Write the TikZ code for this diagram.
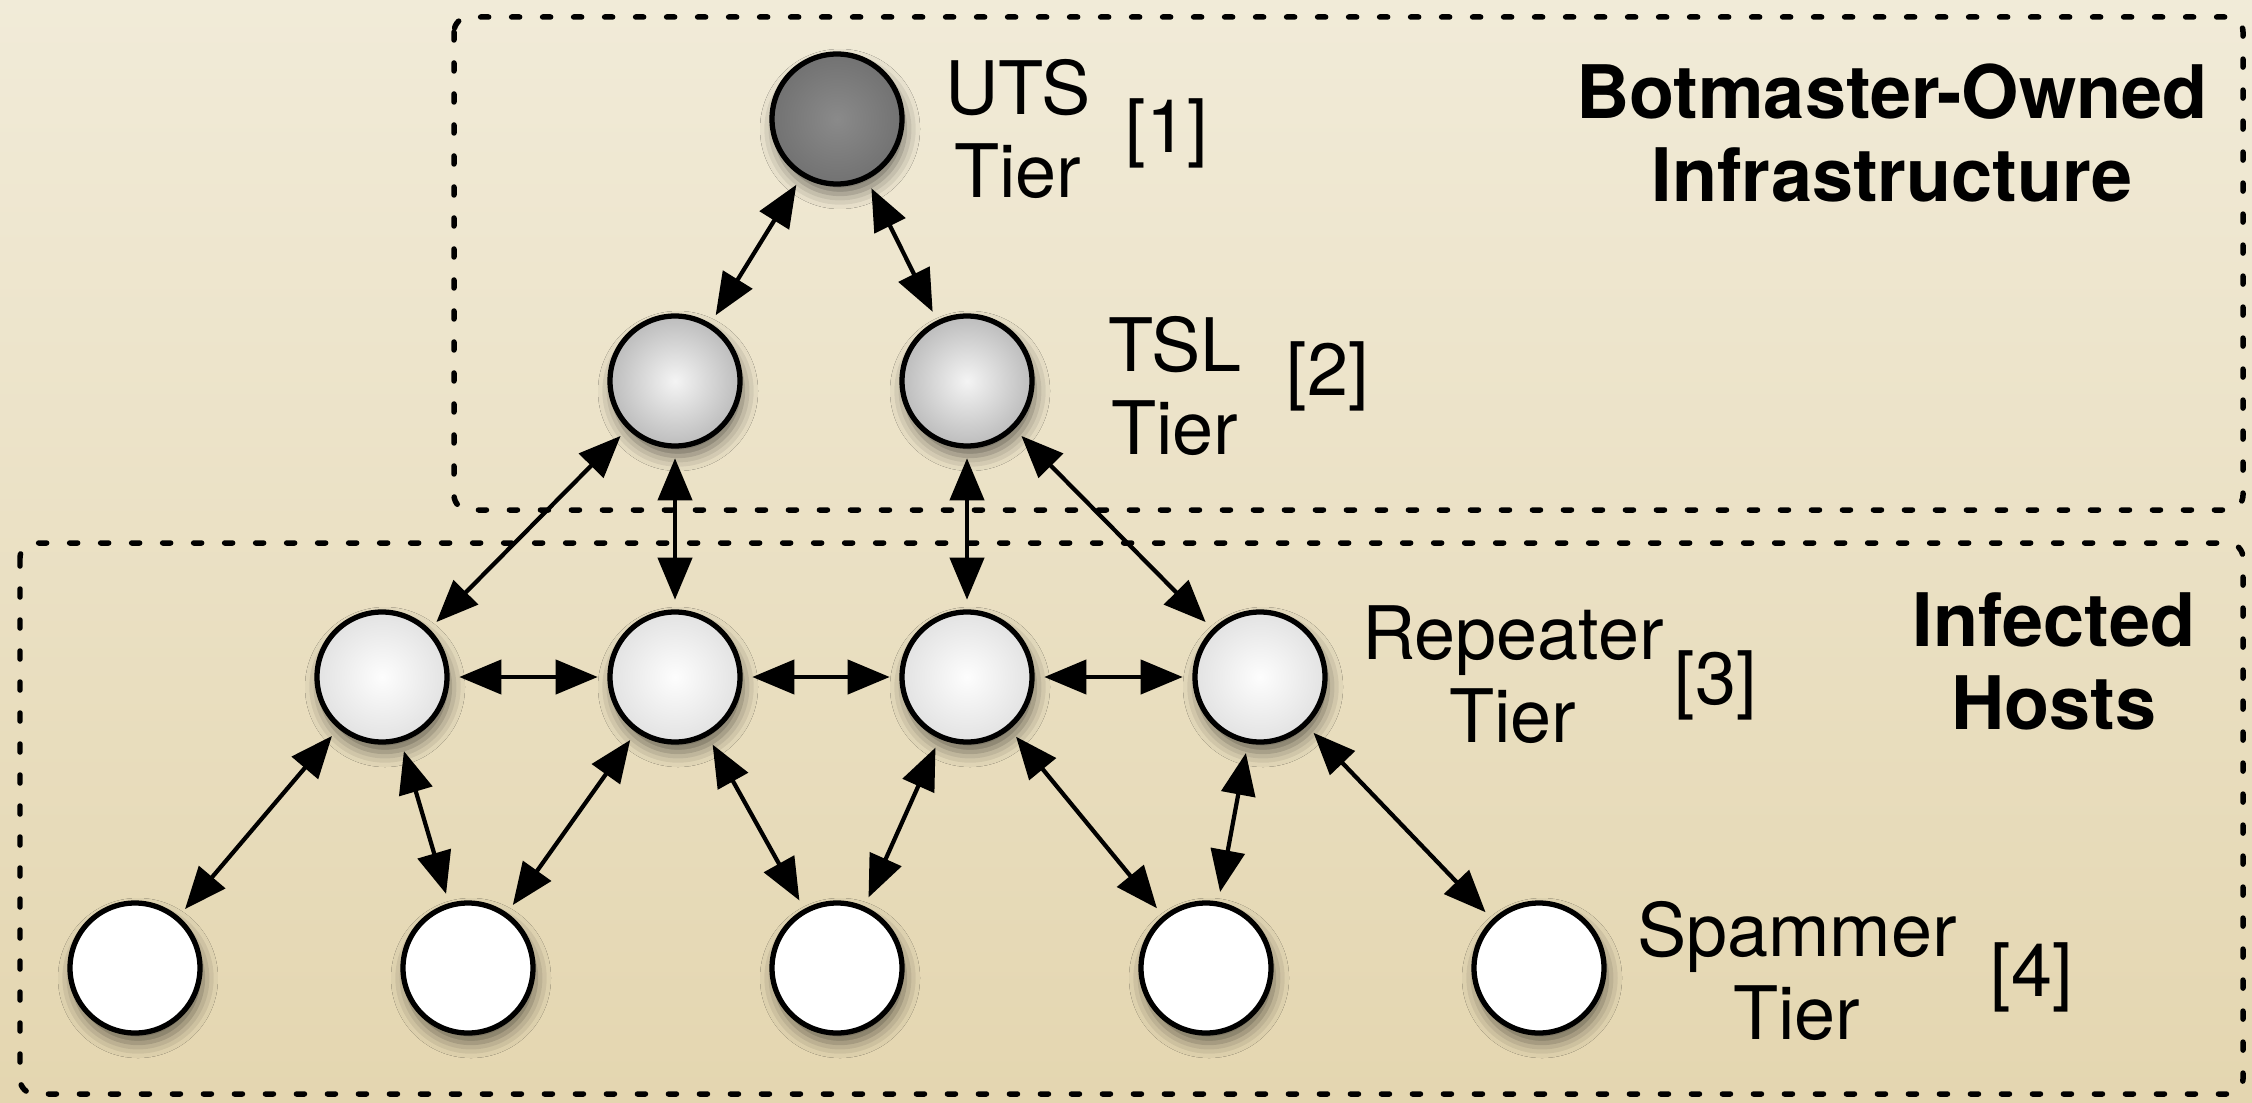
\documentclass[tikz,border=0pt]{standalone}
\usepackage{fontspec}
\setmainfont{TeX Gyre Heros}
\usetikzlibrary{arrows.meta,shadows.blur}
\definecolor{bgtop}{HTML}{F1EBD8}
\definecolor{bgbot}{HTML}{E4D6B0}
\definecolor{utsin}{HTML}{8A8A8A}
\definecolor{utsout}{HTML}{5A5A5A}
\definecolor{tslin}{HTML}{F4F4F4}
\definecolor{tslout}{HTML}{858585}
\definecolor{repin}{HTML}{FDFDFD}
\definecolor{repout}{HTML}{C8C8C8}
\pgfdeclareradialshading{utsball}{\pgfpoint{0bp}{0bp}}{color(0bp)=(utsin); color(50bp)=(utsout); color(72bp)=(utsout)}
\pgfdeclareradialshading{tslball}{\pgfpoint{0bp}{0bp}}{color(0bp)=(tslin); color(50bp)=(tslout); color(72bp)=(tslout)}
\pgfdeclareradialshading{repball}{\pgfpoint{0bp}{0bp}}{color(0bp)=(repin); color(50bp)=(repout); color(72bp)=(repout)}
\tikzset{
  ball/.style={circle, draw=black, line width=1.5pt, minimum size=1.30cm, inner sep=0pt, outer sep=3.5pt,
    blur shadow={shadow xshift=0.03cm, shadow yshift=-0.10cm, shadow blur radius=0.15cm, shadow opacity=55}},
  utsnode/.style={ball, shading=utsball},
  tslnode/.style={ball, shading=tslball},
  repnode/.style={ball, shading=repball},
  spamnode/.style={ball, fill=white},
  link/.style={line width=1.2pt, arrows={Triangle[length=4.2mm,width=3.4mm]-Triangle[length=4.2mm,width=3.4mm]}},
  lbl/.style={font=\fontsize{21pt}{23.6pt}\selectfont, align=center, inner sep=0pt},
  ttl/.style={font=\fontsize{21pt}{23.6pt}\selectfont\bfseries, align=center, inner sep=0pt},
  groupbox/.style={line width=0.055cm, dash pattern=on 0.08cm off 0.23cm, line cap=round, rounded corners=0.15cm}
}
\begin{document}
\begin{tikzpicture}
  \shade[top color=bgtop, bottom color=bgbot] (0,0) rectangle (22.52,-11.03);
  \useasboundingbox (0,0) rectangle (22.52,-11.03);

  % group boxes
  \draw[groupbox] (4.54,-0.17) rectangle (22.43,-5.10);
  \draw[groupbox] (0.20,-5.43) rectangle (22.43,-10.94);

  % nodes
  \node[utsnode] (uts) at (8.37,-1.19) {};
  \node[tslnode] (t1) at (6.75,-3.81) {};
  \node[tslnode] (t2) at (9.67,-3.81) {};
  \node[repnode] (r1) at (3.82,-6.77) {};
  \node[repnode] (r2) at (6.75,-6.77) {};
  \node[repnode] (r3) at (9.67,-6.77) {};
  \node[repnode] (r4) at (12.60,-6.77) {};
  \node[spamnode] (s1) at (1.35,-9.68) {};
  \node[spamnode] (s2) at (4.68,-9.68) {};
  \node[spamnode] (s3) at (8.37,-9.68) {};
  \node[spamnode] (s4) at (12.06,-9.68) {};
  \node[spamnode] (s5) at (15.39,-9.68) {};

  % connectors
  \draw[link] (uts) -- (t1);
  \draw[link] (uts) -- (t2);
  \draw[link] (t1) -- (r1);
  \draw[link] (t1) -- (r2);
  \draw[link] (t2) -- (r3);
  \draw[link] (t2) -- (r4);
  \draw[link] (r1) -- (r2);
  \draw[link] (r2) -- (r3);
  \draw[link] (r3) -- (r4);
  \draw[link] (r1) -- (s1);
  \draw[link] (r1) -- (s2);
  \draw[link] (r2) -- (s2);
  \draw[link] (r2) -- (s3);
  \draw[link] (r3) -- (s3);
  \draw[link] (r3) -- (s4);
  \draw[link] (r4) -- (s4);
  \draw[link] (r4) -- (s5);

  % labels
  \node[lbl] (lu) at (10.18,-1.29) {UTS\\Tier};
  \node[lbl] (nu) at (11.67,-1.33) {[1]};
  \node[lbl] (lt) at (11.75,-3.86) {TSL\\Tier};
  \node[lbl] (nt) at (13.28,-3.76) {[2]};
  \node[lbl] (lr) at (15.13,-6.75) {Repeater\\Tier};
  \node[lbl] (nr) at (17.16,-6.85) {[3]};
  \node[lbl] (ls) at (17.97,-9.71) {Spammer\\Tier};
  \node[lbl] (ns) at (20.32,-9.77) {[4]};
  \node[ttl] (tb) at (18.92,-1.33) {Botmaster-Owned\\Infrastructure};
  \node[ttl] (ti) at (20.54,-6.61) {Infected\\Hosts};
\end{tikzpicture}
\end{document}
